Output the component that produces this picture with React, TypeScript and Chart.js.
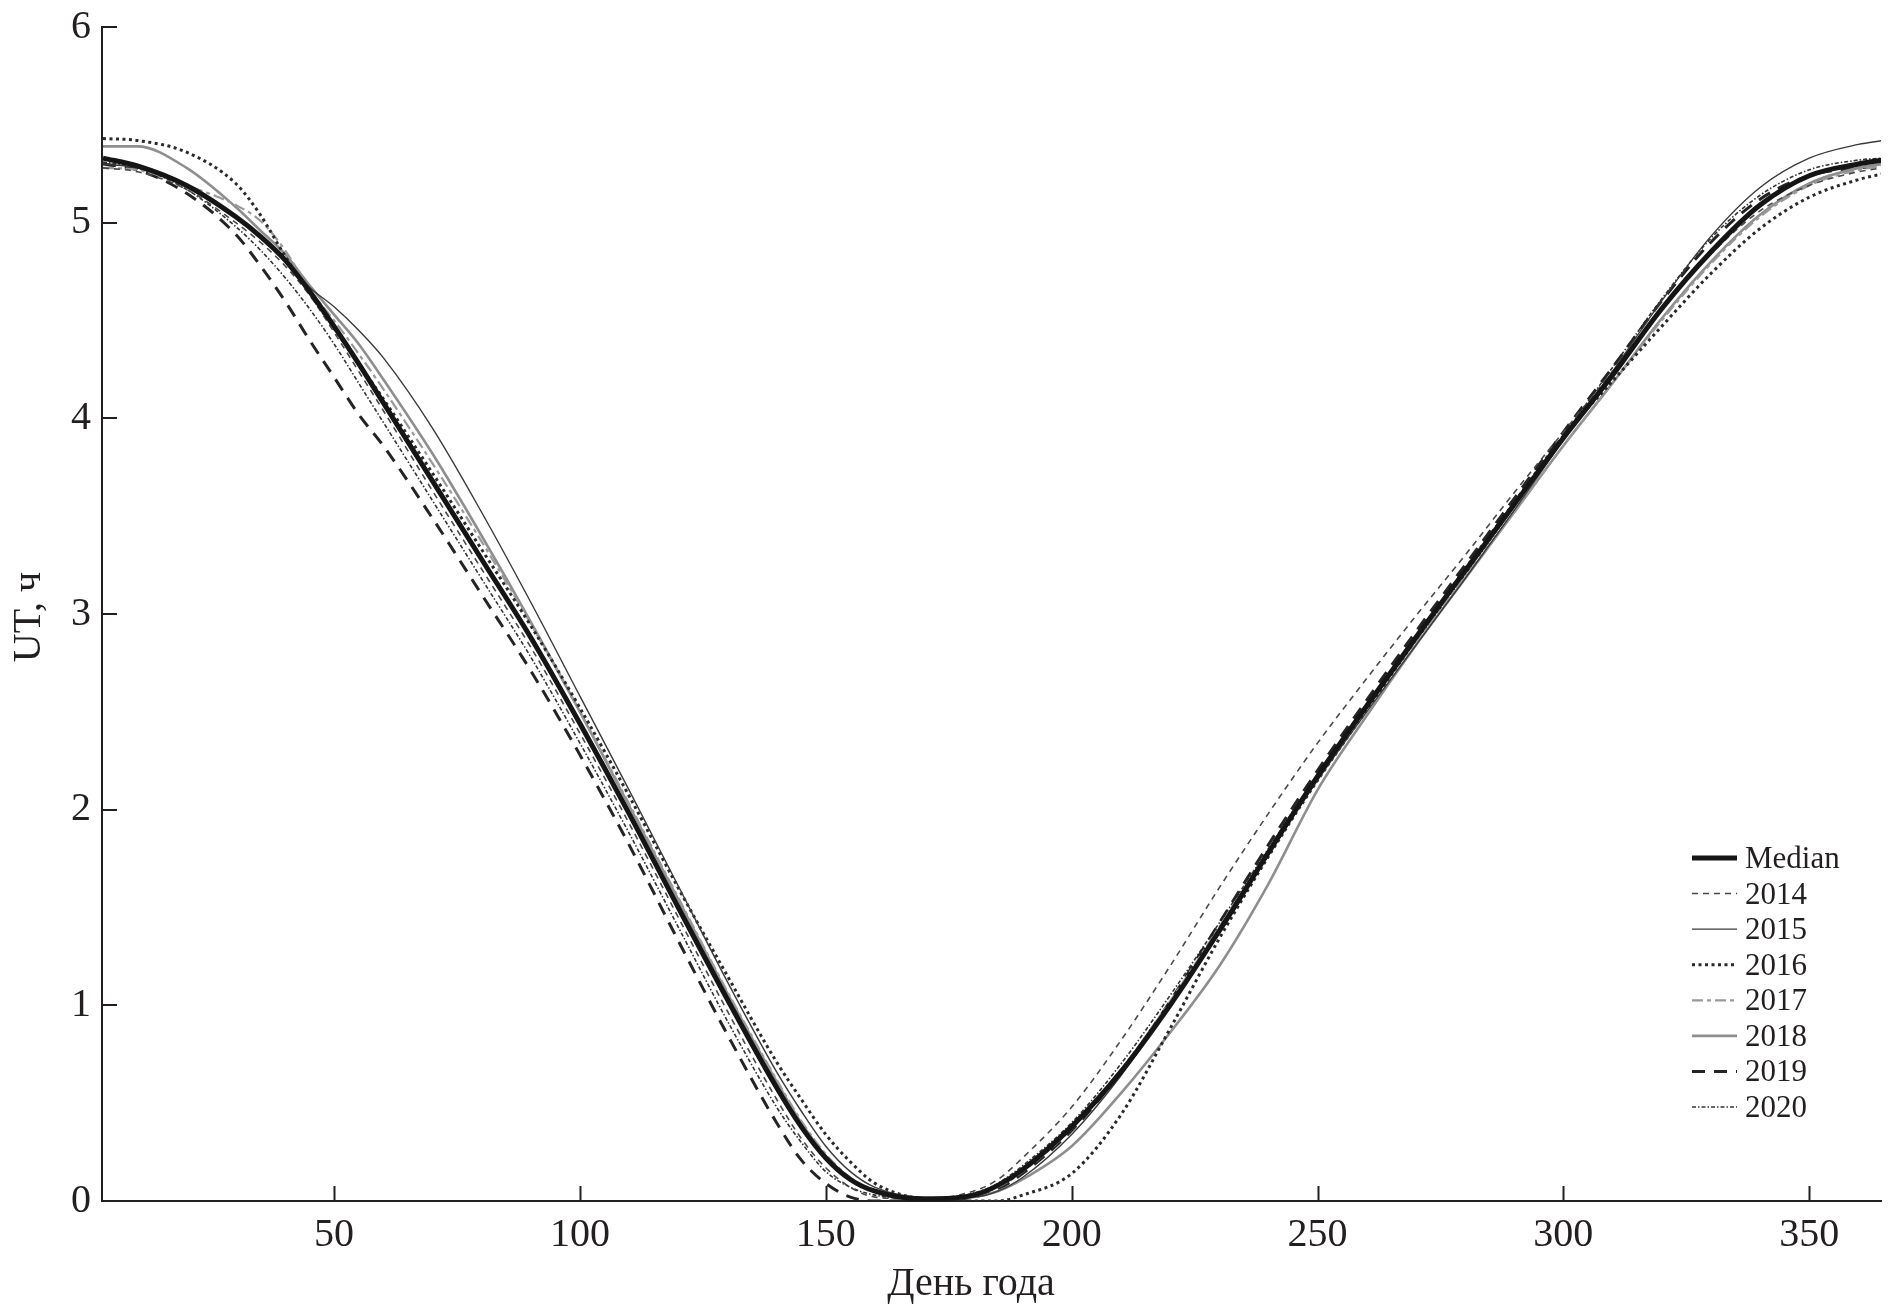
import React, { useEffect, useRef } from "react";
import { Chart, registerables } from "chart.js";

Chart.register(...registerables);

// Day of year grid on which the curves were read
const days = [3, 10, 20, 30, 35, 40, 45, 50, 55, 60, 70, 80, 90, 100, 110, 120, 130, 140, 145, 150, 155, 160, 170, 180, 185, 190, 200, 210, 220, 230, 240, 250, 260, 270, 280, 290, 300, 310, 320, 330, 340, 350, 360, 365];

const median = [5.33, 5.29, 5.19, 5.03, 4.93, 4.81, 4.65, 4.47, 4.28, 4.08, 3.68, 3.28, 2.88, 2.44, 1.98, 1.50, 1.03, 0.58, 0.38, 0.22, 0.11, 0.05, 0.01, 0.03, 0.08, 0.16, 0.38, 0.66, 1.00, 1.38, 1.78, 2.17, 2.53, 2.88, 3.22, 3.56, 3.90, 4.22, 4.56, 4.85, 5.09, 5.24, 5.30, 5.32];
const y2014 = [5.28, 5.26, 5.17, 5.00, 4.90, 4.78, 4.63, 4.44, 4.24, 4.04, 3.63, 3.23, 2.83, 2.39, 1.93, 1.45, 0.97, 0.52, 0.32, 0.17, 0.07, 0.02, 0.01, 0.05, 0.11, 0.22, 0.48, 0.82, 1.20, 1.60, 1.98, 2.34, 2.67, 2.99, 3.30, 3.62, 3.93, 4.24, 4.56, 4.84, 5.06, 5.19, 5.26, 5.28];
const y2015 = [5.30, 5.28, 5.19, 5.03, 4.93, 4.81, 4.67, 4.57, 4.45, 4.31, 3.95, 3.52, 3.06, 2.58, 2.10, 1.61, 1.12, 0.66, 0.46, 0.28, 0.15, 0.07, 0.02, 0.02, 0.05, 0.12, 0.34, 0.64, 1.00, 1.38, 1.77, 2.15, 2.50, 2.84, 3.18, 3.53, 3.89, 4.24, 4.60, 4.93, 5.18, 5.33, 5.40, 5.42];
const y2016 = [5.43, 5.42, 5.36, 5.20, 5.04, 4.83, 4.64, 4.46, 4.28, 4.10, 3.72, 3.33, 2.94, 2.52, 2.07, 1.60, 1.15, 0.71, 0.52, 0.34, 0.20, 0.09, 0.01, 0.00, 0.00, 0.03, 0.14, 0.44, 0.88, 1.34, 1.76, 2.15, 2.51, 2.87, 3.23, 3.57, 3.91, 4.19, 4.47, 4.74, 4.97, 5.13, 5.22, 5.25];
const y2017 = [5.28, 5.27, 5.19, 5.09, 5.01, 4.86, 4.66, 4.50, 4.33, 4.15, 3.77, 3.37, 2.95, 2.50, 2.03, 1.55, 1.07, 0.62, 0.41, 0.24, 0.12, 0.05, 0.01, 0.03, 0.07, 0.15, 0.37, 0.67, 1.02, 1.40, 1.79, 2.17, 2.52, 2.86, 3.19, 3.52, 3.86, 4.18, 4.50, 4.79, 5.03, 5.19, 5.27, 5.29];
const y2018 = [5.39, 5.39, 5.28, 5.08, 4.96, 4.84, 4.68, 4.53, 4.38, 4.20, 3.82, 3.40, 2.96, 2.50, 2.02, 1.54, 1.06, 0.61, 0.40, 0.23, 0.11, 0.05, 0.01, 0.02, 0.05, 0.11, 0.28, 0.55, 0.86, 1.20, 1.62, 2.10, 2.48, 2.84, 3.18, 3.52, 3.86, 4.18, 4.51, 4.80, 5.04, 5.20, 5.28, 5.30];
const y2019 = [5.30, 5.27, 5.15, 4.94, 4.78, 4.60, 4.40, 4.21, 4.02, 3.86, 3.49, 3.10, 2.71, 2.28, 1.82, 1.33, 0.85, 0.40, 0.21, 0.09, 0.02, 0.00, 0.00, 0.02, 0.06, 0.14, 0.36, 0.66, 1.02, 1.42, 1.82, 2.20, 2.56, 2.91, 3.25, 3.59, 3.93, 4.26, 4.60, 4.90, 5.12, 5.24, 5.28, 5.29];
const y2020 = [5.31, 5.28, 5.17, 4.98, 4.86, 4.72, 4.56, 4.38, 4.18, 3.98, 3.58, 3.18, 2.78, 2.34, 1.88, 1.40, 0.92, 0.48, 0.30, 0.15, 0.07, 0.03, 0.01, 0.04, 0.09, 0.18, 0.40, 0.70, 1.05, 1.42, 1.80, 2.18, 2.52, 2.86, 3.20, 3.55, 3.91, 4.26, 4.61, 4.92, 5.14, 5.27, 5.32, 5.33];

const seriesLabels = ["Median", "2014", "2015", "2016", "2017", "2018", "2019", "2020"];
const xTickValues = [50, 100, 150, 200, 250, 300, 350];
const yTickValues = [0, 1, 2, 3, 4, 5, 6];
const xTitle = "День года";
const yTitle = "UT, ч";

const INK = "#231f20";
const FONT = "'Liberation Serif', 'Times New Roman', serif";

export default function App() {
  const ref = useRef<HTMLCanvasElement>(null);

  useEffect(() => {
    if (!ref.current) return;
    const seriesValues = [median, y2014, y2015, y2016, y2017, y2018, y2019, y2020];
    const styles = [
      { color: "#151515", width: 5, dash: [] as number[] },
      { color: "#4a4a4a", width: 1.6, dash: [6, 5] },
      { color: "#3a3a3a", width: 1.4, dash: [] as number[] },
      { color: "#2a2a2a", width: 3, dash: [3, 3.5] },
      { color: "#9a9a9a", width: 2.2, dash: [11, 4, 4, 4] },
      { color: "#8e8e8e", width: 2.6, dash: [] as number[] },
      { color: "#242424", width: 3, dash: [13, 9] },
      { color: "#333333", width: 1.6, dash: [4, 2, 1.5, 2] },
    ];

    const datasets = seriesLabels.map((label, i) => ({
      label,
      data: days.map((d, j) => ({ x: d, y: seriesValues[i][j] })),
      borderColor: styles[i].color,
      borderWidth: styles[i].width,
      borderDash: styles[i].dash,
      borderCapStyle: "butt" as const,
      pointRadius: 0,
      cubicInterpolationMode: "monotone" as const,
      fill: false,
    }));

    const decor = {
      id: "decor",
      afterDraw(chart: any) {
        const ctx = chart.ctx as CanvasRenderingContext2D;
        const xs = chart.scales.x;
        const ys = chart.scales.y;
        const area = chart.chartArea;
        ctx.save();
        // inward tick marks
        ctx.strokeStyle = INK;
        ctx.lineWidth = 2;
        ctx.setLineDash([]);
        for (const v of yTickValues) {
          const py = Math.round(ys.getPixelForValue(v));
          ctx.beginPath();
          ctx.moveTo(area.left, py);
          ctx.lineTo(area.left + 15, py);
          ctx.stroke();
        }
        for (const v of xTickValues) {
          const px = Math.round(xs.getPixelForValue(v)) + 0.5;
          ctx.beginPath();
          ctx.moveTo(px, area.bottom);
          ctx.lineTo(px, area.bottom - 15);
          ctx.stroke();
        }
        // axis titles
        ctx.fillStyle = INK;
        ctx.font = `40px ${FONT}`;
        ctx.textAlign = "center";
        ctx.textBaseline = "alphabetic";
        ctx.fillText(xTitle, 971, 1295);
        ctx.save();
        ctx.translate(40, 617);
        ctx.rotate(-Math.PI / 2);
        ctx.fillText(yTitle, 0, 0);
        ctx.restore();
        // legend
        const lx0 = 1692;
        const lx1 = 1737;
        const ly0 = 858;
        const step = 35.57;
        ctx.font = `31px ${FONT}`;
        ctx.textAlign = "left";
        seriesLabels.forEach((label, i) => {
          const y = ly0 + i * step;
          ctx.strokeStyle = styles[i].color;
          ctx.lineWidth = styles[i].width;
          ctx.lineCap = "butt";
          ctx.setLineDash(styles[i].dash);
          ctx.beginPath();
          ctx.moveTo(lx0, y);
          ctx.lineTo(lx1, y);
          ctx.stroke();
          ctx.setLineDash([]);
          ctx.fillStyle = INK;
          ctx.fillText(label, 1745, y + 10);
        });
        ctx.restore();
      },
    };

    const chart = new Chart(ref.current, {
      type: "line",
      data: { datasets },
      options: {
        animation: false,
        responsive: false,
        devicePixelRatio: 1,
        layout: { padding: { left: 0, top: 27, right: 9, bottom: 0 } },
        plugins: {
          legend: { display: false },
          tooltip: { enabled: false },
        },
        scales: {
          x: {
            type: "linear",
            min: 2.8,
            max: 364.6,
            grid: { display: false, drawTicks: false },
            border: { display: true, color: INK, width: 2 },
            afterBuildTicks: (scale: any) => {
              scale.ticks = xTickValues.map((v) => ({ value: v }));
            },
            afterFit: (scale: any) => {
              scale.height = 112;
              scale.paddingLeft = 0;
              scale.paddingRight = 0;
            },
            ticks: {
              color: INK,
              font: { family: FONT, size: 40 },
              padding: 10,
              maxRotation: 0,
              autoSkip: false,
            },
          },
          y: {
            type: "linear",
            min: 0,
            max: 6,
            grid: { display: false, drawTicks: false },
            border: { display: true, color: INK, width: 2 },
            afterBuildTicks: (scale: any) => {
              scale.ticks = yTickValues.map((v) => ({ value: v }));
            },
            afterFit: (scale: any) => {
              scale.width = 102;
              scale.paddingTop = 0;
              scale.paddingBottom = 0;
            },
            ticks: {
              color: INK,
              font: { family: FONT, size: 40 },
              padding: 11,
            },
          },
        },
      },
      plugins: [decor],
    } as any);

    return () => chart.destroy();
  }, []);

  return (
    <div style={{ position: "absolute", left: 0, top: 0, width: 1890, height: 1313, background: "#fff" }}>
      <canvas ref={ref} width={1890} height={1313} />
    </div>
  );
}
